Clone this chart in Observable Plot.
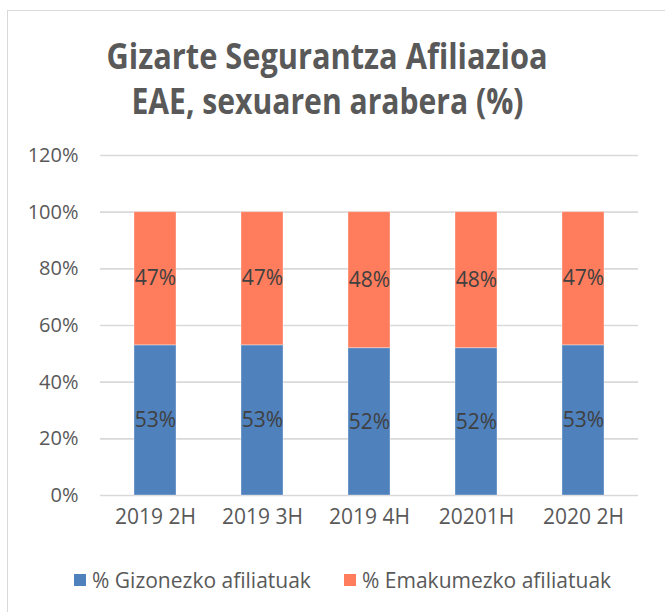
<!DOCTYPE html>
<html>
<head>
<meta charset="utf-8">
<script src="https://cdn.jsdelivr.net/npm/d3@7"></script>
<script src="https://cdn.jsdelivr.net/npm/@observablehq/plot@0.6"></script>
<style>
  html, body { margin: 0; padding: 0; background: #fff; }
  body { width: 665px; height: 612px; position: relative; overflow: hidden; font-family: "Open Sans", sans-serif; }
  #frame { position: absolute; left: 7px; top: 10px; width: 700px; height: 700px; border: 1.5px solid #d9d9d9; box-sizing: border-box; }
  #chart { position: absolute; left: 0; top: 0; }
  .title { position: absolute; left: 0; width: 655px; text-align: center; font-weight: 700; color: #595959; font-size: 36px; white-space: nowrap; }
  .title span { display: inline-block; transform-origin: center; }
  #legend { position: absolute; top: 566px; left: 0; width: 665px; height: 28px; font-size: 21px; color: #595959; }
  .item { position: absolute; top: 0; line-height: 28px; white-space: nowrap; }
  .sw { position: absolute; top: 8px; width: 12px; height: 12px; }
  .lbl { position: absolute; left: 18px; top: 0; }
</style>
</head>
<body>
<div id="frame"></div>
<div id="chart"></div>
<div class="title" id="t1" style="top:31px"><span>Gizarte Segurantza Afiliazioa</span></div>
<div class="title" id="t2" style="top:76px"><span>EAE, sexuaren arabera (%)</span></div>
<div id="legend"></div>
<script>
const categories = ["2019 2H", "2019 3H", "2019 4H", "20201H", "2020 2H"];
const series = ["% Gizonezko afiliatuak", "% Emakumezko afiliatuak"];
const men = [53, 53, 52, 52, 53];
const women = [47, 47, 48, 48, 47];
const yTicks = [0, 20, 40, 60, 80, 100, 120];
const colors = ["#4f81bd", "#ff7c5c"];

const data = [
  ...categories.map((c, i) => ({cat: c, series: series[0], value: men[i]})),
  ...categories.map((c, i) => ({cat: c, series: series[1], value: women[i]}))
];

const chart = Plot.plot({
  width: 665,
  height: 612,
  marginLeft: 100,
  marginRight: 27,
  marginTop: 155,
  marginBottom: 117,
  style: {fontFamily: "Open Sans, sans-serif", background: "transparent", overflow: "visible"},
  x: {domain: categories, paddingInner: 0.61, paddingOuter: 0.305, label: null},
  y: {domain: [0, 120], label: null},
  color: {domain: series, range: colors},
  marks: [
    Plot.gridY(yTicks, {stroke: "#d9d9d9", strokeOpacity: 1, strokeWidth: 1.6}),
    Plot.axisY(yTicks, {tickSize: 0, tickPadding: 22, fontSize: 20, fill: "#595959", tickFormat: d => d + "%", label: null}),
    Plot.axisX({tickSize: 0, tickPadding: 14, fontSize: 21, fill: "#595959", label: null}),
    Plot.barY(data, Plot.stackY({x: "cat", y: "value", z: "series", fill: "series", stroke: "white", strokeOpacity: 0.35, strokeWidth: 1})),
    Plot.text(data, Plot.stackY({x: "cat", y: "value", z: "series", text: d => d.value + "%", fill: "#404040", fontSize: 21}))
  ]
});
document.getElementById("chart").appendChild(chart);

// fit title widths (condensed look)
const targets = {t1: 441, t2: 392};
for (const id of ["t1", "t2"]) {
  const s = document.querySelector("#" + id + " span");
  const w = s.getBoundingClientRect().width;
  s.style.transform = `scaleX(${targets[id] / w})`;
}

const legend = document.getElementById("legend");
const positions = [74, 344];
series.forEach((s, i) => {
  const it = document.createElement("div");
  it.className = "item";
  it.style.left = positions[i] + "px";
  it.innerHTML = `<div class="sw" style="background:${colors[i]}"></div><div class="lbl">${s}</div>`;
  legend.appendChild(it);
});
</script>
</body>
</html>
